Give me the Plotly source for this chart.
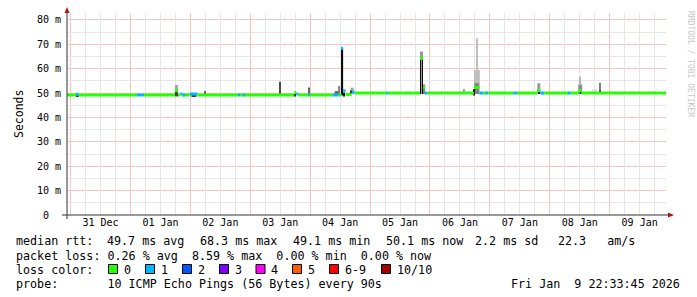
import plotly.graph_objects as go
from datetime import datetime, timedelta

# ---------------- data ----------------
t_start = "2025-12-30 22:33:45"
t_end = "2026-01-09 22:33:45"

# median rtt (ms) change points, with number of lost pings (of 10) per interval
med_time = [
    "2025-12-30 22:33", "2025-12-31 02:24", "2025-12-31 03:12",
    "2026-01-01 02:36", "2026-01-01 05:24",
    "2026-01-01 17:48", "2026-01-01 19:00",
    "2026-01-01 20:00", "2026-01-01 20:48",
    "2026-01-01 21:12", "2026-01-01 21:48",
    "2026-01-01 23:48", "2026-01-02 02:48",
    "2026-01-02 19:12", "2026-01-02 20:00",
    "2026-01-02 21:12", "2026-01-02 21:36",
    "2026-01-03 17:36", "2026-01-03 18:24", "2026-01-03 19:12",
    "2026-01-03 23:12", "2026-01-03 23:48",
    "2026-01-04 09:00", "2026-01-04 11:24",
    "2026-01-04 12:36", "2026-01-04 13:12", "2026-01-04 14:12",
    "2026-01-04 16:36", "2026-01-04 17:48",
    "2026-01-05 06:24", "2026-01-05 07:12",
    "2026-01-05 20:00", "2026-01-05 21:12", "2026-01-05 22:00", "2026-01-05 23:00",
    "2026-01-06 17:36", "2026-01-06 19:48", "2026-01-06 21:24",
    "2026-01-06 22:48", "2026-01-06 23:24",
    "2026-01-07 09:24", "2026-01-07 10:48",
    "2026-01-07 19:00", "2026-01-07 20:12", "2026-01-07 21:48",
    "2026-01-08 07:36", "2026-01-08 08:24",
    "2026-01-08 12:00", "2026-01-08 12:48",
]
med_ms = [
    49.2, 49.5, 49.2,
    49.2, 49.2,
    51.2, 49.2,
    49.6, 49.2,
    49.2, 49.2,
    49.6, 49.2,
    49.2, 49.2,
    49.2, 49.2,
    50.2, 49.6, 49.2,
    49.2, 49.2,
    49.2, 49.2,
    68.3, 50.9, 49.4,
    50.4, 50.0,
    50.0, 50.0,
    64.2, 52.3, 50.0, 50.0,
    52.3, 50.0, 50.0,
    50.0, 50.0,
    50.0, 50.0,
    51.0, 50.0, 50.0,
    50.0, 50.0,
    51.0, 50.0,
]
med_loss = [
    0, 1, 0,
    1, 0,
    0, 0,
    1, 0,
    1, 0,
    1, 0,
    1, 0,
    1, 0,
    0, 1, 0,
    1, 0,
    1, 0,
    1, 1, 0,
    1, 0,
    1, 0,
    0, 0, 1, 0,
    0, 1, 0,
    1, 0,
    1, 0,
    0, 1, 0,
    1, 0,
    0, 0,
]

# smoke: spread of the individual pings (ms) and how dense the pings are (0..1)
smoke_from = [
    "2025-12-31 02:24", "2026-01-01 17:48", "2026-01-01 17:48", "2026-01-02 00:24",
    "2026-01-02 05:36", "2026-01-03 11:36", "2026-01-03 17:36", "2026-01-03 23:12",
    "2026-01-04 09:48", "2026-01-04 11:12", "2026-01-04 12:36", "2026-01-04 13:12",
    "2026-01-04 16:12", "2026-01-04 16:12", "2026-01-05 20:00", "2026-01-05 20:00",
    "2026-01-05 20:48", "2026-01-05 21:12", "2026-01-06 13:12", "2026-01-06 17:36",
    "2026-01-06 18:48", "2026-01-06 17:48", "2026-01-06 17:36", "2026-01-07 19:00",
    "2026-01-07 19:24", "2026-01-08 11:24", "2026-01-08 12:00", "2026-01-08 12:00",
    "2026-01-08 17:00", "2026-01-08 20:00", "2026-01-08 20:00",
]
smoke_to = [
    "2025-12-31 03:12", "2026-01-01 19:00", "2026-01-01 19:00", "2026-01-02 02:24",
    "2026-01-02 06:00", "2026-01-03 12:00", "2026-01-03 18:00", "2026-01-03 23:48",
    "2026-01-04 11:24", "2026-01-04 12:00", "2026-01-04 13:12", "2026-01-04 13:48",
    "2026-01-04 17:24", "2026-01-04 16:36", "2026-01-05 21:12", "2026-01-05 20:24",
    "2026-01-05 21:12", "2026-01-05 22:00", "2026-01-06 14:00", "2026-01-06 20:00",
    "2026-01-06 19:12", "2026-01-06 19:36", "2026-01-06 18:00", "2026-01-07 20:12",
    "2026-01-07 20:00", "2026-01-08 13:00", "2026-01-08 12:24", "2026-01-08 12:24",
    "2026-01-08 19:00", "2026-01-08 20:24", "2026-01-08 20:24",
]
smoke_lo = [
    48.5, 49.0, 48.6, 48.6,
    49.0, 49.0, 48.6, 49.0,
    49.6, 49.0, 49.0, 48.6,
    49.6, 49.6, 49.6, 49.6,
    49.6, 49.6, 49.6, 49.6,
    59.0, 49.6, 49.0, 49.6,
    49.6, 49.6, 53.5, 49.6,
    49.6, 49.6, 49.6,
]
smoke_hi = [
    49.3, 53.3, 50.4, 49.4,
    50.8, 54.6, 49.6, 52.3,
    50.8, 52.9, 68.3, 50.2,
    52.2, 51.0, 67.0, 64.0,
    64.0, 53.5, 51.7, 59.4,
    72.4, 54.0, 51.5, 54.0,
    51.0, 53.5, 56.7, 51.0,
    51.5, 54.2, 51.0,
]
smoke_density = [
    0.90, 0.35, 0.75, 0.75,
    0.60, 0.70, 0.85, 0.60,
    0.60, 0.50, 0.95, 0.90,
    0.35, 0.85, 0.40, 0.95,
    0.95, 0.50, 0.35, 0.25,
    0.25, 0.50, 0.95, 0.40,
    0.90, 0.45, 0.30, 0.90,
    0.15, 0.50, 0.85,
]

y_ticks = [0, 10, 20, 30, 40, 50, 60, 70, 80]
y_tick_text = ["0\u00a0\u00a0", "10 m", "20 m", "30 m", "40 m", "50 m", "60 m", "70 m", "80 m"]
y_minor = [5, 15, 25, 35, 45, 55, 65, 75]

loss_names = ["0", "1", "2", "3", "4", "5", "6-9", "10/10"]
loss_colors = ["#26ff00", "#00b8ff", "#0059ff", "#7e00ff", "#ff00ff", "#ff5e00", "#ff0000", "#a10000"]

legend_lines = [
    ["median rtt:", "49.7 ms avg", "68.3 ms max", "49.1 ms min", "50.1 ms now", "2.2 ms sd", "22.3   am/s"],
    ["packet loss: 0.26 % avg  8.59 % max  0.00 % min  0.00 % now"],
]
probe_text = "probe:       10 ICMP Echo Pings (56 Bytes) every 90s"
stamp_text = "Fri Jan  9 22:33:45 2026"

# ---------------- layout geometry ----------------
W, H = 697, 297
L, R, T, B = 67, 31, 13, 82
PW, PH = W - L - R, H - T - B
Y_TOP = 82.8
MONO = "DejaVu Sans Mono"


def fx(p):
    return (p - L) / PW


def fy(p):
    return (T + PH - p) / PH


def ts(s):
    return datetime.fromisoformat(s)


def loss_idx(n):
    if n <= 5:
        return n
    if n < 10:
        return 6
    return 7


# 6-hourly minor grid positions (midnights carry the major grid)
x_minor = []
t = datetime(2025, 12, 30, 0, 0)
while t <= ts(t_end):
    if t.hour != 0 and t >= ts(t_start):
        x_minor.append(t.strftime("%Y-%m-%d %H:%M"))
    t += timedelta(hours=6)

fig = go.Figure()

# carrier trace for the overlaid minor-grid axes (draws nothing)
fig.add_trace(go.Scatter(x=[med_time[0]], y=[None], xaxis="x2", yaxis="y2",
                         mode="lines", showlegend=False, hoverinfo="skip"))

# smoke bars (lighter first)
order = sorted(range(len(smoke_from)), key=lambda i: smoke_density[i])
for i in order:
    a, b = ts(smoke_from[i]), ts(smoke_to[i])
    g = int(round(255 * (1 - smoke_density[i])))
    fig.add_trace(go.Bar(
        x=[a + (b - a) / 2], y=[smoke_hi[i] - smoke_lo[i]], base=[smoke_lo[i]],
        width=[(b - a).total_seconds() * 1000],
        marker=dict(color=f"rgb({g},{g},{g})", line=dict(width=0)),
        showlegend=False, hoverinfo="skip"))

# median band coloured by loss
half = 1.5 * Y_TOP / PH  # 3 px tall band
bars = {k: dict(x=[], y=[], base=[], w=[]) for k in range(8)}
for i in range(len(med_time)):
    a = ts(med_time[i])
    b = ts(med_time[i + 1]) if i + 1 < len(med_time) else ts(t_end)
    k = loss_idx(med_loss[i])
    bars[k]["x"].append(a + (b - a) / 2)
    bars[k]["y"].append(2 * half)
    bars[k]["base"].append(med_ms[i] - half)
    bars[k]["w"].append((b - a).total_seconds() * 1000)
for k, d in bars.items():
    if d["x"]:
        fig.add_trace(go.Bar(x=d["x"], y=d["y"], base=d["base"], width=d["w"],
                             marker=dict(color=loss_colors[k], line=dict(width=0)),
                             showlegend=False, hoverinfo="skip"))

GRID = "#e6e6e6"
MGRID = "#f2c4c4"
AXIS = "#333333"
ARROW = "#a01c1c"

fig.update_layout(
    width=W, height=H, margin=dict(l=L, r=R, t=T, b=B, pad=0),
    paper_bgcolor="white", plot_bgcolor="white", barmode="overlay",
    showlegend=False,
    font=dict(family=MONO, size=10, color="#000"),
    xaxis=dict(
        type="date", range=[t_start, t_end], showline=False, zeroline=False,
        tickmode="linear", tick0="2025-12-31", dtick=86400000, tickformat="%d %b",
        ticklabelmode="period",
        showgrid=True, gridcolor=MGRID, gridwidth=1,
        ticks="", tickfont=dict(family=MONO, size=10, color="#000"),
    ),
    yaxis=dict(
        range=[0, Y_TOP], showline=False, zeroline=False,
        tickmode="array", tickvals=y_ticks, ticktext=y_tick_text,
        showgrid=True, gridcolor=MGRID, gridwidth=1,
        ticks="", tickfont=dict(family=MONO, size=10, color="#000"),
        ticklabelstandoff=5,
    ),
    xaxis2=dict(
        type="date", range=[t_start, t_end], overlaying="x", anchor="y2",
        tickmode="array", tickvals=x_minor, showticklabels=False, ticks="",
        showgrid=True, gridcolor=GRID, gridwidth=1, showline=False, zeroline=False,
    ),
    yaxis2=dict(
        range=[0, Y_TOP], overlaying="y", anchor="x2",
        tickmode="array", tickvals=y_minor, showticklabels=False, ticks="",
        showgrid=True, gridcolor=GRID, gridwidth=1, showline=False, zeroline=False,
    ),
)

shapes = []
# axes with arrows
shapes.append(dict(type="line", xref="paper", yref="paper", x0=fx(62), x1=fx(670),
                   y0=fy(215), y1=fy(215), line=dict(color=AXIS, width=1)))
shapes.append(dict(type="line", xref="paper", yref="paper", x0=fx(67), x1=fx(67),
                   y0=fy(219), y1=fy(12), line=dict(color=AXIS, width=1)))
shapes.append(dict(type="path", xref="paper", yref="paper",
                   path=f"M {fx(668)},{fy(212.5)} L {fx(674)},{fy(215)} L {fx(668)},{fy(217.5)} Z",
                   fillcolor=ARROW, line=dict(width=0)))
shapes.append(dict(type="path", xref="paper", yref="paper",
                   path=f"M {fx(64.5)},{fy(13)} L {fx(67)},{fy(7)} L {fx(69.5)},{fy(13)} Z",
                   fillcolor=ARROW, line=dict(width=0)))

# loss colour legend swatches
box_x = [108.5, 145.5, 182.5, 219.5, 256, 292.5, 329.5, 381.5]
for bx, c in zip(box_x, loss_colors):
    shapes.append(dict(type="rect", xref="paper", yref="paper",
                       x0=fx(bx), x1=fx(bx + 9), y0=fy(273.5), y1=fy(264.5),
                       fillcolor=c, line=dict(color="#000", width=1)))
fig.update_layout(shapes=shapes)

ann = []


def text(xp, yp, s, anchor="left", size=11.7, color="#000", angle=0, family=MONO):
    ann.append(dict(xref="paper", yref="paper", x=fx(xp), y=fy(yp), text=s,
                    xanchor=anchor, yanchor="middle", showarrow=False,
                    borderpad=0, borderwidth=0, textangle=angle,
                    font=dict(family=family, size=size, color=color)))


line1_x = [16, 107.3, 200, 292.7, 385.7, 475, 558]
for xx, s in zip(line1_x, legend_lines[0]):
    text(xx, 241, s.replace(" ", "\u00a0"))
text(16, 255.5, legend_lines[1][0].replace(" ", "\u00a0"))
text(16, 269.5, "loss\u00a0color:")
for bx, n in zip(box_x, loss_names):
    text(bx + 15, 269.5, n)
text(16, 283.5, probe_text.replace(" ", "\u00a0"))
text(680, 283.5, stamp_text.replace(" ", "\u00a0"), anchor="right")
text(12, 114, "Seconds", angle=-90, size=11.5)
text(686.5, 64, "RRDTOOL\u00a0/\u00a0TOBI\u00a0OETIKER", angle=90, size=8, color="#c8c8c8")
fig.update_layout(annotations=ann)

fig.write_html("out.html")
